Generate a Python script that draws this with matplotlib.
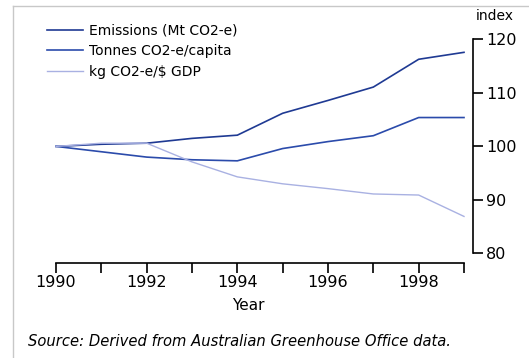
import numpy as np
import matplotlib.pyplot as plt
from matplotlib.lines import Line2D

# Index values (1990 = 100)
years = [1990, 1991, 1992, 1993, 1994, 1995, 1996, 1997, 1998, 1999]
emissions = [100.0, 100.4, 100.6, 101.5, 102.1, 106.2, 108.6, 111.1, 116.3, 117.6]
per_capita = [100.0, 99.0, 98.0, 97.5, 97.3, 99.6, 100.9, 102.0, 105.4, 105.4]
per_gdp = [100.0, 100.6, 100.6, 97.1, 94.3, 93.0, 92.1, 91.1, 90.9, 86.9]

labels = ["Emissions (Mt CO2-e)", "Tonnes CO2-e/capita", "kg CO2-e/$ GDP"]
colors = ["#1f3a93", "#2b4bab", "#a9b1e2"]
x_labels = ["1990", "", "1992", "", "1994", "", "1996", "", "1998", ""]

plt.rcParams["font.family"] = ["DejaVu Sans"]

W, H = 529, 358
fig = plt.figure(figsize=(W / 100, H / 100), dpi=100)
ax = fig.add_axes([56 / W, 104.7 / H, 408 / W, 213.8 / H])

ax.plot(years, emissions, color=colors[0], lw=1.2, clip_on=False)
ax.plot(years, per_capita, color=colors[1], lw=1.2, clip_on=False)
ax.plot(years, per_gdp, color=colors[2], lw=1.0, clip_on=False)

ax.set_xlim(1990, 1999)
ax.set_ylim(80, 120)

ax.spines["left"].set_visible(False)
ax.spines["top"].set_visible(False)
ax.spines["bottom"].set_position(("outward", 7.2))
ax.spines["right"].set_position(("outward", 6.5))
for s in ("bottom", "right"):
    ax.spines[s].set_linewidth(1.2)
    ax.spines[s].set_color("black")

ax.yaxis.tick_right()
ax.set_yticks([80, 90, 100, 110, 120])
ax.set_xticks(years)
ax.set_xticklabels(x_labels)
ax.tick_params(axis="x", direction="out", length=7.2, width=1.2, labelsize=11.5, pad=1)
ax.tick_params(axis="y", direction="out", length=7.2, width=1.2, labelsize=11.5, pad=2)

handles = [Line2D([], [], color=c, lw=1.2 if i < 2 else 1.0) for i, c in enumerate(colors)]
fig.legend(handles, labels, loc="upper left", bbox_to_anchor=(47 / W, 1 - 23.5 / H),
           bbox_transform=fig.transFigure, frameon=False, fontsize=10,
           handlelength=2.6, handletextpad=0.43, labelspacing=0.48,
           borderaxespad=0, borderpad=0)

fig.text(248 / W, 1 - 305 / H, "Year", fontsize=11, ha="center", va="center")
fig.text(495 / W, 1 - 15.5 / H, "index", fontsize=10, ha="center", va="center")
fig.text(28 / W, 1 - 342 / H, "Source: Derived from Australian Greenhouse Office data.",
         fontsize=10.6, style="italic", ha="left", va="center")

# light grey frame around the chart (top and left edges)
fig.add_artist(Line2D([13 / W, 1], [1 - 6 / H, 1 - 6 / H], color="#c8c8c8", lw=1))
fig.add_artist(Line2D([13 / W, 13 / W], [0, 1 - 6 / H], color="#c8c8c8", lw=1))

fig.savefig("out.png", dpi=100)
